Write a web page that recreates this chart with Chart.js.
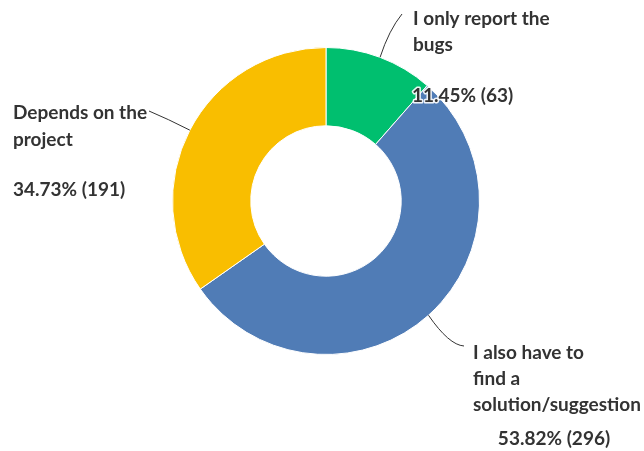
<!DOCTYPE html>
<html>
<head>
<meta charset="utf-8">
<script src="https://cdn.jsdelivr.net/npm/chart.js@4/dist/chart.umd.min.js"></script>
<style>
  html, body { margin: 0; padding: 0; background: #fff; }
  #wrap { width: 644px; height: 451px; }
</style>
</head>
<body>
<div id="wrap"><canvas id="donut" width="644" height="451"></canvas></div>
<script>
// ---- data ----
const answers = ["I only report the bugs", "I also have to find a solution/suggestion", "Depends on the project"];
const counts = [63, 296, 191];
const sliceColors = ["#00BF6F", "#507CB6", "#F9BE00"];

// label text broken the way the picture wraps it
const labelLines = [
  ["I only report the", "bugs"],
  ["I also have to", "find a", "solution/suggestion"],
  ["Depends on the", "project"]
];

// where each callout sits (text position + leader line end)
const callouts = [
  { x: 413, lines: [19, 45], pctY: 96, pctX: 412, pctAlign: "left", end: [402, 14], ctrl: [389, 30] },
  { x: 473, lines: [353, 379, 405], pctY: 439, pctX: 554, pctAlign: "center", end: [464, 346], ctrl: [449, 345] },
  { x: 13, lines: [113, 140], pctY: 190, pctX: 13, pctAlign: "left", end: [149, 111], ctrl: [168, 119] }
];

const total = counts.reduce((a, b) => a + b, 0);

const calloutPlugin = {
  id: "callouts",
  afterDraw(chart) {
    const ctx = chart.ctx;
    const arcs = chart.getDatasetMeta(0).data;
    ctx.save();
    arcs.forEach((arc, i) => {
      const c = callouts[i];
      const mid = (arc.startAngle + arc.endAngle) / 2;
      const sx = arc.x + Math.cos(mid) * arc.outerRadius;
      const sy = arc.y + Math.sin(mid) * arc.outerRadius;

      // leader line
      ctx.strokeStyle = "#333";
      ctx.lineWidth = 1;
      ctx.beginPath();
      ctx.moveTo(sx, sy);
      ctx.quadraticCurveTo(c.ctrl[0], c.ctrl[1], c.end[0], c.end[1]);
      ctx.stroke();

      ctx.font = "bold 19px Lato";
      ctx.fillStyle = "#333";
      ctx.textBaseline = "middle";
      ctx.textAlign = "left";
      labelLines[i].forEach((line, k) => {
        ctx.fillText(line, c.x, c.lines[k]);
      });

      const pct = (counts[i] / total * 100).toFixed(2) + "% (" + counts[i] + ")";
      ctx.textAlign = c.pctAlign;
      ctx.lineWidth = 3;
      ctx.strokeStyle = "rgba(255,255,255,0.9)";
      ctx.lineJoin = "round";
      ctx.strokeText(pct, c.pctX, c.pctY);
      ctx.fillText(pct, c.pctX, c.pctY);
    });
    ctx.restore();
  }
};

new Chart(document.getElementById("donut"), {
  type: "doughnut",
  data: {
    labels: answers,
    datasets: [{
      data: counts,
      backgroundColor: sliceColors,
      borderColor: "#ffffff",
      borderWidth: 1
    }]
  },
  options: {
    responsive: false,
    animation: false,
    cutout: "49%",
    layout: { padding: { left: 172, right: 164, top: 47, bottom: 96 } },
    plugins: {
      legend: { display: false },
      tooltip: { enabled: false }
    }
  },
  plugins: [calloutPlugin]
});
</script>
</body>
</html>
